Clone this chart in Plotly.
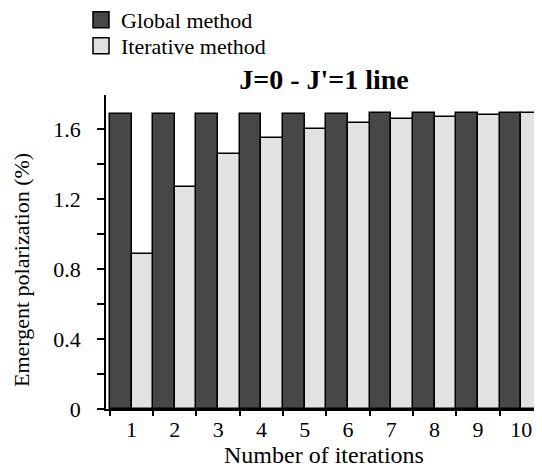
import plotly.graph_objects as go

iterations = ["1", "2", "3", "4", "5", "6", "7", "8", "9", "10"]
global_method = [1.685, 1.685, 1.685, 1.685, 1.687, 1.688, 1.69, 1.69, 1.692, 1.692]
iterative_method = [0.885, 1.27, 1.46, 1.547, 1.60, 1.633, 1.657, 1.67, 1.68, 1.69]
series_names = ["Global method", "Iterative method"]
series_colors = ["#474747", "#e2e2e2"]

serif = "Liberation Serif, Times New Roman, serif"

# page body has an 8px default margin, so the figure is 8px smaller than the window
W, H = 534, 460

fig = go.Figure()
fig.add_trace(go.Bar(
    x=iterations, y=global_method, name=series_names[0], showlegend=False,
    marker=dict(color=series_colors[0], line=dict(color="black", width=1.5)),
))
fig.add_trace(go.Bar(
    x=iterations, y=iterative_method, name=series_names[1], showlegend=False,
    marker=dict(color=series_colors[1], line=dict(color="black", width=1.5)),
))
# legend entries (larger square swatches), one legend per entry
for i, (nm, col) in enumerate(zip(series_names, series_colors)):
    fig.add_trace(go.Scatter(
        x=[None], y=[None], mode="markers", name=nm,
        legend="legend" if i == 0 else "legend2",
        marker=dict(symbol="square", size=16, color=col, line=dict(color="black", width=1.5)),
    ))

leg_common = dict(xref="container", yref="container", x=73/W, xanchor="left",
                  yanchor="middle", font=dict(size=22, family=serif),
                  bgcolor="rgba(0,0,0,0)", itemsizing="trace", itemwidth=30)

fig.update_layout(
    width=W, height=H,
    margin=dict(l=98, r=0, t=87, b=59, autoexpand=False),
    paper_bgcolor="white", plot_bgcolor="white",
    barmode="group", bargap=0, bargroupgap=0,
    font=dict(family=serif, color="black", size=22),
    title=dict(text="<b>J=0 - J'=1 line</b>", xref="paper", x=0.5, xanchor="center",
               yref="container", y=1-71/H, yanchor="middle",
               font=dict(size=28, family=serif)),
    legend=dict(y=1-12/H, **leg_common),
    legend2=dict(y=1-38/H, **leg_common),
    showlegend=True,
    annotations=[dict(
        text="Emergent polarization (%)", textangle=-90,
        xref="paper", yref="paper", x=-85/436, y=1-(262-87)/314,
        xanchor="center", yanchor="middle", showarrow=False,
        font=dict(size=22, family=serif),
    )],
)
fig.update_xaxes(
    type="category", range=[-0.59, 9.48], tickson="boundaries",
    ticks="outside", ticklen=5, tickcolor="black", tickwidth=1.5,
    showline=True, linecolor="black", linewidth=1.5, showgrid=False,
    tickfont=dict(size=22),
    title=dict(text="Number of iterations", font=dict(size=24)),
)
fig.update_yaxes(
    range=[0, 1.795], tickvals=[0, 0.4, 0.8, 1.2, 1.6],
    ticktext=["0", "0.4", "0.8", "1.2", "1.6"],
    ticks="outside", ticklen=7, tickcolor="black", tickwidth=1.5,
    minor=dict(dtick=0.2, tick0=0, ticks="outside", ticklen=7, tickcolor="black", tickwidth=1.5, showgrid=False),
    showline=True, linecolor="black", linewidth=1.5, showgrid=False, zeroline=False,
    tickfont=dict(size=22), ticklabelstandoff=12,
)

fig.write_html("out.html")
